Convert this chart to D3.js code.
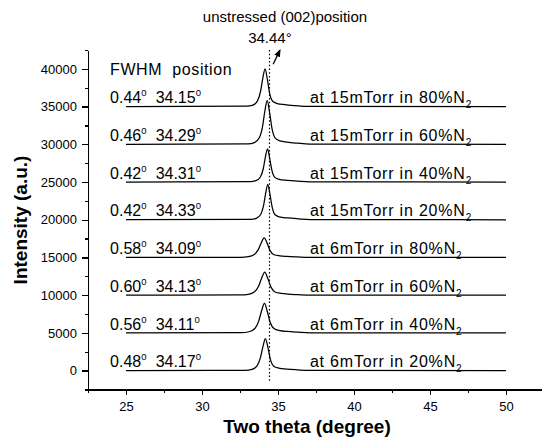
<!DOCTYPE html>
<html>
<head>
<meta charset='utf-8' />
<title>XRD</title>
<style>
  body{ margin:0; background:#fff; }
  svg{ display:block; }
  text{ font-family: Arial, 'Liberation Sans', Helvetica, sans-serif; fill:#000; }
  .axis path, .axis line{ stroke:#000; stroke-width:1.3px; shape-rendering:crispEdges; }
  .axis text{ font-size:13px; }
</style>
</head>
<body>
<script src="https://cdnjs.cloudflare.com/ajax/libs/d3/7.8.5/d3.min.js"></script>
<script>

// samples, top to bottom
let pressure = ['15mTorr','15mTorr','15mTorr','15mTorr','6mTorr','6mTorr','6mTorr','6mTorr']
let nitrogen = ['80%','60%','40%','20%','80%','60%','40%','20%']
let fwhm     = ['0.44','0.46','0.42','0.42','0.58','0.60','0.56','0.48']
let position = ['34.15','34.29','34.31','34.33','34.09','34.13','34.11','34.17']
let offsets  = [35000, 30000, 25000, 20000, 15000, 10000, 5000, 0]

// two theta samples
let twoTheta = [
  [25, 32.95, 33.35, 33.65, 33.85, 34.00, 34.15, 34.30, 34.45, 34.65, 34.95, 35.45, 36.15, 36.95, 50],
  [25, 33.03, 33.45, 33.77, 33.98, 34.13, 34.29, 34.45, 34.61, 34.82, 35.13, 35.59, 36.29, 37.09, 50],
  [25, 33.17, 33.55, 33.84, 34.03, 34.17, 34.31, 34.45, 34.60, 34.79, 35.07, 35.61, 36.31, 37.11, 50],
  [25, 33.19, 33.57, 33.86, 34.05, 34.19, 34.33, 34.47, 34.62, 34.81, 35.09, 35.63, 36.33, 37.13, 50],
  [25, 32.53, 33.05, 33.44, 33.70, 33.90, 34.09, 34.29, 34.48, 34.74, 35.13, 35.59, 36.29, 37.09, 50],
  [25, 32.51, 33.05, 33.46, 33.73, 33.93, 34.13, 34.33, 34.54, 34.81, 35.21, 35.63, 36.33, 37.13, 50],
  [25, 32.59, 33.09, 33.48, 33.73, 33.92, 34.11, 34.30, 34.49, 34.75, 35.13, 35.61, 36.31, 37.11, 50],
  [25, 32.85, 33.29, 33.62, 33.84, 34.01, 34.17, 34.34, 34.50, 34.72, 35.05, 35.57, 36.27, 37.07, 50]
]
// intensity above each trace's own baseline
let intensity = [
  [0, 50, 200, 750, 2000, 3750, 5000, 3600, 1750, 700, 400, 250, 125, 25, 0],
  [0, 60, 230, 870, 2320, 4350, 5800, 4180, 2030, 810, 460, 290, 145, 30, 0],
  [0, 45, 175, 660, 1760, 3300, 4400, 3170, 1540, 620, 350, 220, 110, 20, 0],
  [0, 45, 190, 700, 1880, 3520, 4700, 3380, 1650, 660, 380, 235, 120, 25, 0],
  [0, 25, 105, 390, 1040, 1950, 2600, 1870, 910, 365, 210, 130, 65, 15, 0],
  [0, 30, 120, 460, 1220, 2290, 3050, 2200, 1070, 430, 245, 150, 75, 15, 0],
  [0, 40, 155, 585, 1560, 2930, 3900, 2810, 1370, 545, 310, 195, 100, 20, 0],
  [0, 45, 170, 640, 1700, 3190, 4250, 3060, 1490, 595, 340, 210, 105, 20, 0]
]

let xMajor = [25, 30, 35, 40, 45, 50]
let xMinor = [22.5, 27.5, 32.5, 37.5, 42.5, 47.5, 52.5]
let yMajor = [0, 5000, 10000, 15000, 20000, 25000, 30000, 35000, 40000]
let yMinor = [-2500, 2500, 7500, 12500, 17500, 22500, 27500, 32500, 37500, 42500]

let unstressed = 34.44

let width = 542, height = 441

let svg = d3.select('body').append('svg').attr('width',width).attr('height',height)

let x = d3.scaleLinear().domain([22.5,52.5]).range([88,544]),
  y = d3.scaleLinear().domain([-2500,42500]).range([389.5,50])

// axes
svg.append('g').attr('class','axis').attr('transform','translate(0,'+y(-2500)+')')
  .call(d3.axisBottom(x).tickValues(xMinor).tickSize(3).tickSizeOuter(0).tickFormat(''))
svg.append('g').attr('class','axis').attr('transform','translate(0,'+y(-2500)+')')
  .call(d3.axisBottom(x).tickValues(xMajor).tickSize(5).tickSizeOuter(0).tickPadding(7).tickFormat(d3.format('d')))

svg.append('g').attr('class','axis').attr('transform','translate('+x(22.5)+',0)')
  .call(d3.axisLeft(y).tickValues(yMinor).tickSize(3).tickSizeOuter(0).tickFormat(''))
svg.append('g').attr('class','axis').attr('transform','translate('+x(22.5)+',0)')
  .call(d3.axisLeft(y).tickValues(yMajor).tickSize(6).tickSizeOuter(0).tickPadding(5).tickFormat(d3.format('d')))

svg.selectAll('.axis text').attr('font-family',null)

// titles
svg.append('text').attr('x',307).attr('y',433).attr('text-anchor','middle')
  .style('font-size','19px').style('font-weight','bold').text('Two theta (degree)')
svg.append('text').attr('transform','translate(27,220) rotate(-90)').attr('text-anchor','middle')
  .style('font-size','19px').style('font-weight','bold').text('Intensity (a.u.)')

// unstressed position marker
svg.append('line')
  .attr('x1',x(unstressed)).attr('x2',x(unstressed))
  .attr('y1',y(42500)).attr('y2',y(-1500))
  .style('stroke','#000').style('stroke-width',1.2).style('stroke-dasharray','1.5,2.2')

svg.append('defs').append('marker').attr('id','head')
  .attr('viewBox','0 0 10 10').attr('refX',8).attr('refY',5)
  .attr('markerWidth',6).attr('markerHeight',6).attr('orient','auto')
  .append('path').attr('d','M0,1 L10,5 L0,9 Z').style('fill','#000')

svg.append('line')
  .attr('x1',x(34.68)).attr('y1',y(40600))
  .attr('x2',x(35.12)).attr('y2',y(42450))
  .style('stroke','#000').style('stroke-width',1.3).attr('marker-end','url(#head)')

svg.append('text').attr('x',x(35.46)).attr('y',y(46250)).attr('text-anchor','middle')
  .style('font-size','15px').text('unstressed (002)position')
svg.append('text').attr('x',x(34.47)).attr('y',y(43420)).attr('text-anchor','middle')
  .style('font-size','15px').text('34.44°')

svg.append('text').attr('x',x(23.95)).attr('y',y(39200))
  .style('font-size','16px').style('letter-spacing','0.6px').text('FWHM\u00a0\u00a0position')

// traces
let line = d3.line().curve(d3.curveMonotoneX)
  .x(d => x(d[0])).y(d => y(d[1]))

offsets.forEach((off, i) => {
  let pts = twoTheta[i].map((t, j) => [t, off + intensity[i][j]])
  svg.append('path').datum(pts).attr('d',line)
    .style('fill','none').style('stroke','#000').style('stroke-width',1.25)

  let ty = y(off + 450)

  let t1 = svg.append('text').attr('x',x(23.95)).attr('y',ty).style('font-size','16px')
  t1.append('tspan').text(fwhm[i])
  t1.append('tspan').attr('dy',-7).style('font-size','9.5px').text('0')

  let t2 = svg.append('text').attr('x',x(26.95)).attr('y',ty).style('font-size','16px')
  t2.append('tspan').text(position[i])
  t2.append('tspan').attr('dy',-7).style('font-size','9.5px').text('0')

  let t3 = svg.append('text').attr('x',x(37.1)).attr('y',ty)
    .style('font-size','16px').style('letter-spacing','0.8px')
  t3.append('tspan').text('at '+pressure[i]+' in '+nitrogen[i]+'N')
  t3.append('tspan').attr('dy',5).style('font-size','10px').style('letter-spacing','0px').text('2')
})

</script>
</body>
</html>
